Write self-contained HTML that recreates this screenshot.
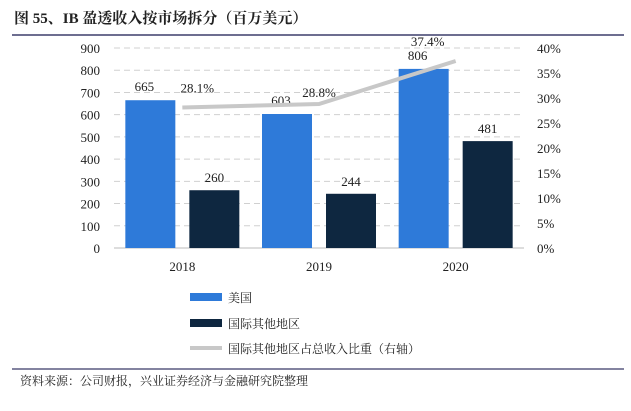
<!DOCTYPE html>
<html><head><meta charset="utf-8"><style>
body{margin:0;background:#fff;width:631px;height:406px;overflow:hidden;font-family:"Liberation Serif","Noto Serif CJK SC",serif}
</style></head><body>
<svg width="631" height="406" xmlns="http://www.w3.org/2000/svg">
<text x="14" y="23" font-size="15" font-weight="bold" fill="#222" font-family="Liberation Serif,Noto Serif CJK SC,serif">图 55、IB 盈透收入按市场拆分（百万美元）</text>
<line x1="12" y1="35" x2="624" y2="35" stroke="#3d3f6b" stroke-width="1.5"/>
<g id="plot"></g>
<g font-family="Liberation Serif,Noto Serif CJK SC,serif" font-size="12" fill="#222">
<rect x="190" y="293" width="32" height="8" fill="#2e7ad9"/>
<text x="228" y="302">美国</text>
<rect x="190" y="319" width="32" height="8" fill="#0e2740"/>
<text x="228" y="328">国际其他地区</text>
<line x1="190" y1="348" x2="222" y2="348" stroke="#c8c8c8" stroke-width="4"/>
<text x="228" y="353">国际其他地区占总收入比重（右轴）</text>
</g>
<line x1="12" y1="369" x2="624" y2="369" stroke="#5a5a80" stroke-width="1.5"/>
<text x="20" y="385" font-size="12" fill="#222" font-family="Liberation Serif,Noto Serif CJK SC,serif">资料来源：公司财报，兴业证券经济与金融研究院整理</text>
</svg>
<script>
const categories=["2018","2019","2020"];
const usValues=[665,603,806];
const intlValues=[260,244,481];
const shareValues=[28.1,28.8,37.4];
const leftTicks=[0,100,200,300,400,500,600,700,800,900];
const rightTicks=[0,5,10,15,20,25,30,35,40];
const NS="http://www.w3.org/2000/svg";
const g=document.getElementById('plot');
const y0=248,yTop=48,xL=114,xR=524;
const yL=v=>y0-(v/900)*(y0-yTop);
const yR=v=>y0-(v/40)*(y0-yTop);
const band=(xR-xL)/categories.length;
const xC=i=>xL+band*(i+0.5);
const labelDx=[15,0,-28], labelDy=[-15,-7,-15];
function mk(tag,attrs,txt){const e=document.createElementNS(NS,tag);for(const k in attrs)e.setAttribute(k,attrs[k]);if(txt!==undefined)e.textContent=txt;g.appendChild(e);return e;}
leftTicks.forEach(v=>{
 if(v>0){const l=mk('line',{x1:xL,x2:xR,y1:yL(v),y2:yL(v),stroke:'#d0d0d0','stroke-dasharray':'6 4'});
 
 }
 const t=mk('text',{x:100,y:yL(v)+5,'text-anchor':'end','font-size':13,fill:'#222'},v);
 
 
});
rightTicks.forEach(v=>{
 const t=mk('text',{x:537,y:yR(v)+5,'font-size':13,fill:'#222'},v+'%');
 
 
});
const ax=mk('line',{x1:xL,x2:xR,y1:y0,y2:y0,stroke:'#bbb'});


const bw=50;
categories.forEach((c,i)=>{
 const cx=xC(i);
 const b1=mk('rect',{x:cx-bw-7,y:yL(usValues[i]),width:bw,height:y0-yL(usValues[i]),fill:'#2e7ad9'});
 
 
 const b2=mk('rect',{x:cx+7,y:yL(intlValues[i]),width:bw,height:y0-yL(intlValues[i]),fill:'#0e2740'});
 
 
 const t1=mk('text',{x:cx-bw/2-13,y:yL(usValues[i])-9,'text-anchor':'middle','font-size':13,fill:'#222'},usValues[i]);
 
 
 const t2=mk('text',{x:cx+bw/2+7,y:yL(intlValues[i])-8,'text-anchor':'middle','font-size':13,fill:'#222'},intlValues[i]);
 
 
 const tc=mk('text',{x:cx,y:271,'text-anchor':'middle','font-size':13,fill:'#222'},c);
 
 
});
const pts=shareValues.map((v,i)=>xC(i)+','+yR(v)).join(' ');
const pl=mk('polyline',{points:pts,fill:'none',stroke:'#c8c8c8','stroke-width':4});


shareValues.forEach((v,i)=>{
 const t=mk('text',{x:xC(i)+labelDx[i],y:yR(v)+labelDy[i],'text-anchor':'middle','font-size':13,fill:'#222'},v.toFixed(1)+'%');
 
 
});
</script>
</body></html>
